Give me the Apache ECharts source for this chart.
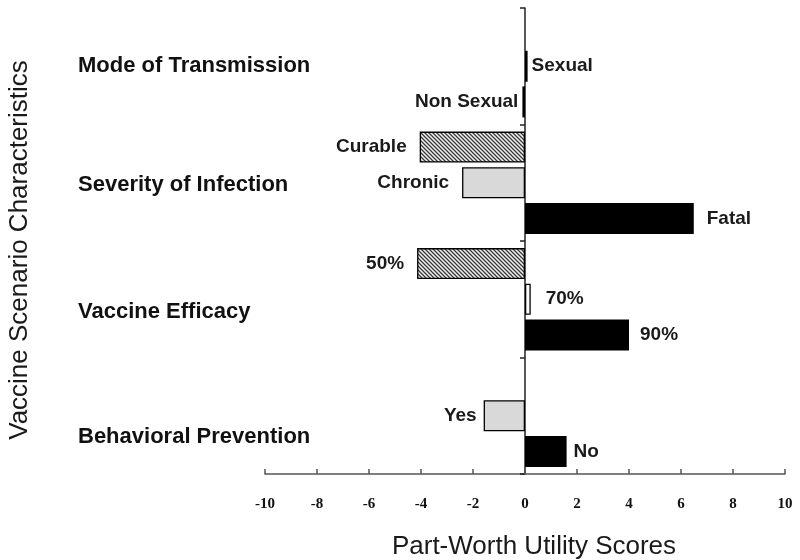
<!DOCTYPE html>
<html>
<head>
<meta charset="utf-8">
<script src="https://cdn.jsdelivr.net/npm/echarts@6/dist/echarts.min.js"></script>
<style>html,body{margin:0;padding:0;background:#fff}#c{width:800px;height:560px}</style>
</head>
<body>
<div id="c"></div>
<script>
// ---- data ----
const groups = ['Mode of Transmission', 'Severity of Infection', 'Vaccine Efficacy', 'Behavioral Prevention'];
const levels1 = [null, 'Curable', '50%', null];
const values1 = [null, -4.05, -4.15, null];
const levels2 = ['Sexual', 'Chronic', '70%', 'Yes'];
const values2 = [0.1, -2.42, 0.22, -1.59];
const levels3 = ['Non Sexual', 'Fatal', '90%', 'No'];
const values3 = [-0.1, 6.49, 4.0, 1.6];
const fills1 = ['hatch', 'hatch', 'hatch', 'hatch'];
const fills2 = ['black', 'light', 'white', 'light'];
const fills3 = ['black', 'black', 'black', 'black'];
const xTicks = [-10, -8, -6, -4, -2, 0, 2, 4, 6, 8, 10];

// ---- styles ----
function hatchPattern() {
  const cv = document.createElement('canvas');
  cv.width = 4; cv.height = 4;
  const g = cv.getContext('2d');
  g.fillStyle = '#f2f2f2'; g.fillRect(0, 0, 4, 4);
  g.strokeStyle = '#3a3a3a'; g.lineWidth = 1.3;
  g.beginPath();
  g.moveTo(-1, -1); g.lineTo(5, 5);
  g.moveTo(-1, 3); g.lineTo(1, 5);
  g.moveTo(3, -1); g.lineTo(5, 1);
  g.stroke();
  return cv;
}
const fillMap = {
  hatch: { image: hatchPattern(), repeat: 'repeat' },
  light: '#d9d9d9',
  white: '#ffffff',
  black: '#000000'
};
const groupShift = { 'Mode of Transmission': 0, 'Severity of Infection': 4, 'Vaccine Efficacy': 25, 'Behavioral Prevention': 42 };

function buildData(values, levels, fills) {
  return values.map((v, i) => {
    if (v === null) return null;
    const small = Math.abs(v) < 0.5;
    const lbl = levels[i];
    let dist = 13;
    if (small) dist = lbl === '70%' ? 15 : 4;
    if (lbl === 'Yes' || lbl === 'No') dist = 7;
    if (lbl === '90%') dist = 11;
    return {
      value: v,
      name: lbl,
      itemStyle: { color: fillMap[fills[i]], borderColor: '#000', borderWidth: 1.3 },
      label: {
        show: true,
        position: v >= 0 ? 'right' : 'left',
        distance: dist,
        formatter: lbl,
        fontFamily: 'Liberation Sans, Arial, sans-serif',
        fontWeight: 'bold',
        fontSize: 19,
        color: '#1a1a1a'
      }
    };
  });
}

const barCommon = { type: 'bar', barWidth: 31, barGap: '15%', animation: false };

const chart = echarts.init(document.getElementById('c'), null, { renderer: 'canvas' });
chart.setOption({
  backgroundColor: '#ffffff',
  animation: false,
  grid: { left: 265, right: 15, top: 8, bottom: 86, containLabel: false, outerBoundsMode: 'none' },
  xAxis: {
    type: 'value',
    min: xTicks[0],
    max: xTicks[xTicks.length - 1],
    interval: 2,
    name: 'Part-Worth Utility Scores',
    nameLocation: 'middle',
    nameGap: 60,
    nameTextStyle: { fontFamily: 'Liberation Sans, Arial, sans-serif', fontSize: 26, color: '#1a1a1a', padding: [0, 0, 0, 18] },
    axisLine: { show: true, onZero: false, lineStyle: { color: '#555', width: 1.5 } },
    axisTick: { show: true, inside: true, length: 5, lineStyle: { color: '#555', width: 1.5 } },
    axisLabel: {
      margin: 23,
      fontFamily: 'Liberation Serif, Times New Roman, serif',
      fontWeight: 'bold',
      fontSize: 15,
      color: '#111'
    },
    splitLine: { show: false }
  },
  yAxis: {
    type: 'category',
    data: groups,
    inverse: true,
    name: 'Vaccine Scenario Characteristics',
    nameLocation: 'middle',
    nameGap: 232,
    nameRotate: 90,
    nameMoveOverlap: false,
    nameTextStyle: { fontFamily: 'Liberation Sans, Arial, sans-serif', fontSize: 26, color: '#1a1a1a', padding: [0, 18, 0, 0] },
    axisLine: { show: true, onZero: true, lineStyle: { color: '#222', width: 1.5 } },
    axisTick: { show: true, length: 5, lineStyle: { color: '#222', width: 1.5 } },
    axisLabel: {
      align: 'left',
      margin: 187,
      formatter: v => '{g' + groups.indexOf(v) + '|' + v + '}',
      rich: Object.fromEntries(groups.map((g, i) => ['g' + i, {
        fontFamily: 'Liberation Sans, Arial, sans-serif',
        fontWeight: 'bold', fontSize: 22, color: '#111',
        padding: [groupShift[g], 0, 0, 0]
      }]))
    },
    splitLine: { show: false }
  },
  series: [
    Object.assign({ name: 's1', data: buildData(values1, levels1, fills1) }, barCommon),
    Object.assign({ name: 's2', data: buildData(values2, levels2, fills2) }, barCommon),
    Object.assign({ name: 's3', data: buildData(values3, levels3, fills3) }, barCommon)
  ]
});
</script>
</body>
</html>
